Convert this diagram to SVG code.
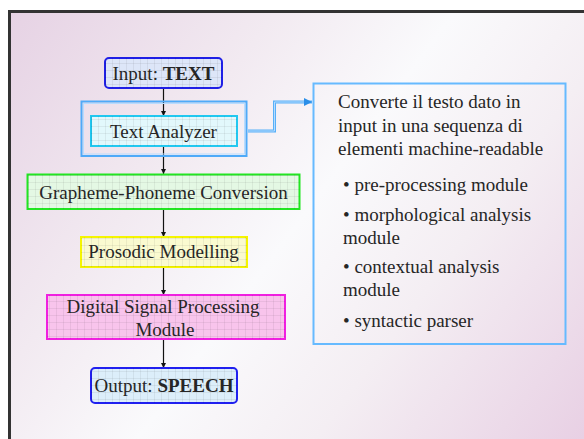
<svg xmlns="http://www.w3.org/2000/svg" width="584" height="439" viewBox="0 0 584 439">
  <style>
    text { font-family: "Liberation Serif", "Times New Roman", serif; font-size: 19px; fill: #262626; }
    .mid { text-anchor: middle; }
    .b { font-weight: bold; }
    .flow { stroke: #111; stroke-width: 1.2; fill: none; marker-end: url(#tip); }
    .grid { fill: url(#grid); }
  </style>
  <defs>
    <linearGradient id="bg" gradientUnits="userSpaceOnUse" x1="9" y1="11" x2="584" y2="439">
      <stop offset="0" stop-color="#e6d2e4"/>
      <stop offset="0.3" stop-color="#f2eaf1"/>
      <stop offset="0.5" stop-color="#fafafc"/>
      <stop offset="0.7" stop-color="#f4eef3"/>
      <stop offset="1" stop-color="#e8d0e4"/>
    </linearGradient>
    <pattern id="grid" width="7" height="7" patternUnits="userSpaceOnUse">
      <path d="M0 0.5H7M0.5 0V7" stroke="#000" stroke-opacity="0.06" stroke-width="1" fill="none"/>
    </pattern>
    <marker id="tip" viewBox="0 0 8 8" refX="8" refY="4" markerWidth="5" markerHeight="5" orient="auto" markerUnits="userSpaceOnUse">
      <path d="M0 0L8 4L0 8Z" fill="#111"/>
    </marker>
    <marker id="bluetip" viewBox="0 0 10 10" refX="10" refY="5" markerWidth="8" markerHeight="8" orient="auto" markerUnits="userSpaceOnUse">
      <path d="M0 0L10 5L0 10Z" fill="#2a8ee8"/>
    </marker>
  </defs>

  <!-- slide background and frame -->
  <rect x="0" y="0" width="584" height="439" fill="#ffffff"/>
  <rect x="9.5" y="11.5" width="600" height="450" fill="url(#bg)" stroke="#333" stroke-width="3"/>

  <!-- connectors -->
  <g id="connectors">
    <line class="flow" x1="163.5" y1="88" x2="163.5" y2="116"/>
    <line class="flow" x1="163.5" y1="146" x2="163.5" y2="174"/>
    <line class="flow" x1="163.5" y1="209" x2="163.5" y2="237"/>
    <line class="flow" x1="163.5" y1="267" x2="163.5" y2="295"/>
    <line class="flow" x1="163.5" y1="339" x2="163.5" y2="368"/>
    <path d="M248 131H274.5V102H312" fill="none" stroke="#58b0f8" stroke-width="3" marker-end="url(#bluetip)"/>
    <path d="M248 131H274.5V102H304" fill="none" stroke="#b6dcff" stroke-width="1"/>
  </g>

  <g id="input">
    <rect x="105" y="58" width="117" height="30" rx="4" fill="#dde6f8" stroke="#1f1fe6" stroke-width="2"/>
    <rect class="grid" x="105" y="58" width="117" height="30" rx="4"/>
    <text class="mid" x="163.5" y="80">Input: <tspan class="b">TEXT</tspan></text>
  </g>

  <g id="text-analyzer">
    <rect x="81.5" y="101.5" width="165" height="54.5" fill="none" stroke="#4faaf8" stroke-width="2"/>
    <rect x="83.5" y="103.5" width="161" height="50.5" fill="none" stroke="#b8dcff" stroke-width="1"/>
    <rect x="91" y="116" width="146" height="30" fill="#e2f8fc" stroke="#22c8f0" stroke-width="2"/>
    <rect class="grid" x="91" y="116" width="146" height="30"/>
    <text class="mid" x="163.5" y="137.5">Text Analyzer</text>
  </g>

  <g id="grapheme-phoneme">
    <rect x="27.5" y="174.5" width="272" height="34.5" fill="#e4f8e4" stroke="#22e622" stroke-width="2"/>
    <rect class="grid" x="27.5" y="174.5" width="272" height="34.5"/>
    <text class="mid" x="163.5" y="199">Grapheme-Phoneme Conversion</text>
  </g>

  <g id="prosodic">
    <rect x="81" y="237" width="166" height="30" fill="#fafad0" stroke="#f5f500" stroke-width="2"/>
    <rect class="grid" x="81" y="237" width="166" height="30"/>
    <text class="mid" x="163.5" y="258">Prosodic Modelling</text>
  </g>

  <g id="dsp">
    <rect x="47" y="295" width="238" height="44" fill="#f8c4ec" stroke="#f020e0" stroke-width="2"/>
    <rect x="47" y="295" width="238" height="44" fill="url(#grid)"/>
    <text class="mid" x="163" y="313">Digital Signal Processing</text>
    <text class="mid" x="165" y="336">Module</text>
  </g>

  <g id="output">
    <rect x="91" y="368" width="146" height="35" rx="4" fill="#dceefa" stroke="#2020f0" stroke-width="2"/>
    <rect class="grid" x="91" y="368" width="146" height="35" rx="4"/>
    <text class="mid" x="164" y="391.5">Output: <tspan class="b">SPEECH</tspan></text>
  </g>

  <g id="description">
    <rect x="313.5" y="83.5" width="252" height="260.5" fill="none" stroke="#66baff" stroke-width="2"/>
    <text x="338" y="108">Converte il testo dato in</text>
    <text x="338" y="131.5">input in una sequenza di</text>
    <text x="338" y="155">elementi machine-readable</text>
    <text x="343" y="191">• pre-processing module</text>
    <text x="343" y="221">• morphological analysis</text>
    <text x="343" y="244">module</text>
    <text x="343" y="273">• contextual analysis</text>
    <text x="343" y="296">module</text>
    <text x="343" y="327">• syntactic parser</text>
  </g>
</svg>
